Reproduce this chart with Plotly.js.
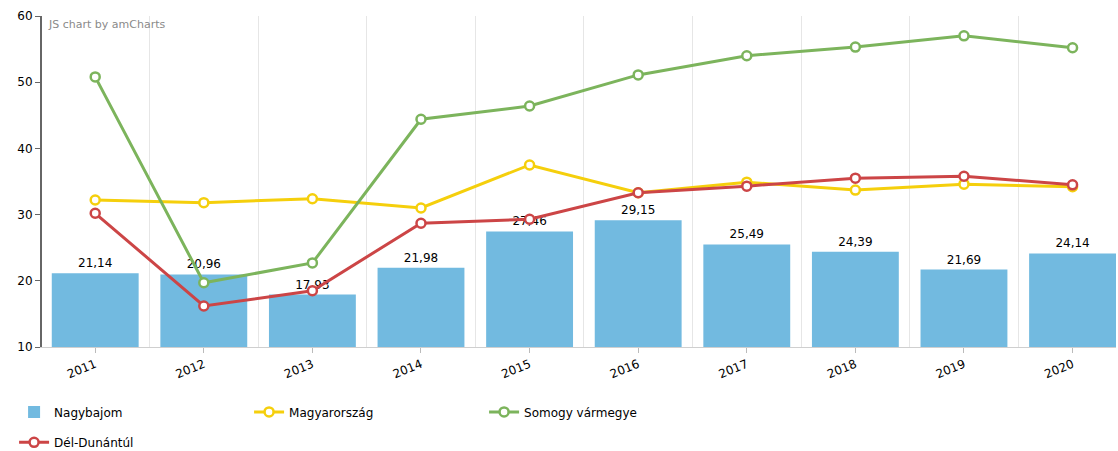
<!DOCTYPE html>
<html>
<head>
<meta charset="utf-8">
<script src="https://cdn.plot.ly/plotly-3.0.1.min.js"></script>
<style>html,body{margin:0;padding:0;background:#fff;}#chart{width:1118px;height:451px;}</style>
</head>
<body>
<div id="chart"></div>
<script>
const years = [2011, 2012, 2013, 2014, 2015, 2016, 2017, 2018, 2019, 2020];
const nagybajom = [21.14, 20.96, 17.93, 21.98, 27.46, 29.15, 25.49, 24.39, 21.69, 24.14];
const magyarorszag = [32.2, 31.8, 32.4, 31.0, 37.5, 33.3, 34.9, 33.7, 34.6, 34.2];
const somogy = [50.8, 19.7, 22.7, 44.4, 46.4, 51.1, 54.0, 55.3, 57.0, 55.2];
const delDunantul = [30.2, 16.2, 18.5, 28.7, 29.3, 33.3, 34.3, 35.5, 35.8, 34.5];
const seriesNames = ['Nagybajom', 'Magyarország', 'Somogy vármegye', 'Dél-Dunántúl'];

const FONT = 'DejaVu Sans, Verdana, sans-serif';
function lineTrace(name, y, color, legend) {
  return {
    type: 'scatter', mode: 'lines+markers', name: name, x: years, y: y,
    line: {color: color, width: 3},
    marker: {symbol: 'circle', size: 9, color: '#ffffff', line: {color: color, width: 2.5}},
    legend: legend, cliponaxis: false
  };
}
const traces = [
  {
    type: 'bar', name: seriesNames[0], x: years, y: nagybajom,
    marker: {color: '#72bae0'},
    text: nagybajom, texttemplate: '%{y:.2f}', textposition: 'outside',
    textfont: {family: FONT, size: 12, color: '#000'}, cliponaxis: false,
    legend: 'legend'
  },
  lineTrace(seriesNames[1], magyarorszag, '#f5cf0c', 'legend'),
  lineTrace(seriesNames[2], somogy, '#7cb45c', 'legend'),
  lineTrace(seriesNames[3], delDunantul, '#cc4546', 'legend2')
];

const layout = {
  width: 1118, height: 451,
  margin: {l: 42, r: 2, t: 16, b: 104, autoexpand: false},
  separators: ', ',
  bargap: 0.2,
  paper_bgcolor: '#fff', plot_bgcolor: '#fff',
  font: {family: FONT, size: 12, color: '#000'},
  showlegend: true,
  xaxis: {
    range: [2010.51, 2020.4], tickvals: years, ticktext: years.map(String),
    tickangle: -22, ticks: 'outside', ticklen: 5, tickcolor: '#bbb',
    showgrid: false, showline: true, linecolor: '#cfcfcf', linewidth: 1,
    zeroline: false, tickfont: {family: FONT, size: 12, color: '#000'}, automargin: false,
    minor: {tick0: 2010.5, dtick: 1, showgrid: true, gridcolor: '#e6e6e6', gridwidth: 1, ticks: ''}
  },
  yaxis: {
    range: [10, 60], dtick: 10, ticks: 'outside', ticklen: 5, tickcolor: '#666',
    showgrid: false, showline: true, linecolor: '#666', linewidth: 2, automargin: false,
    zeroline: false, tickfont: {family: FONT, size: 12, color: '#000'}
  },
  legend: {
    orientation: 'h', x: -0.026, xanchor: 'left', y: -0.196, yanchor: 'middle',
    entrywidth: 190, entrywidthmode: 'pixels', traceorder: 'normal',
    font: {family: FONT, size: 12, color: '#000'}, bgcolor: 'rgba(0,0,0,0)'
  },
  legend2: {
    orientation: 'h', x: -0.026, xanchor: 'left', y: -0.288, yanchor: 'middle',
    font: {family: FONT, size: 12, color: '#000'}, bgcolor: 'rgba(0,0,0,0)'
  },
  annotations: [{
    text: 'JS chart by amCharts', xref: 'paper', yref: 'paper',
    x: 0.004, y: 0.973, xanchor: 'left', yanchor: 'middle', showarrow: false,
    font: {family: FONT, size: 11, color: '#8a8a8a'}
  }]
};
Plotly.newPlot('chart', traces, layout, {displayModeBar: false, staticPlot: true});
</script>
</body>
</html>
